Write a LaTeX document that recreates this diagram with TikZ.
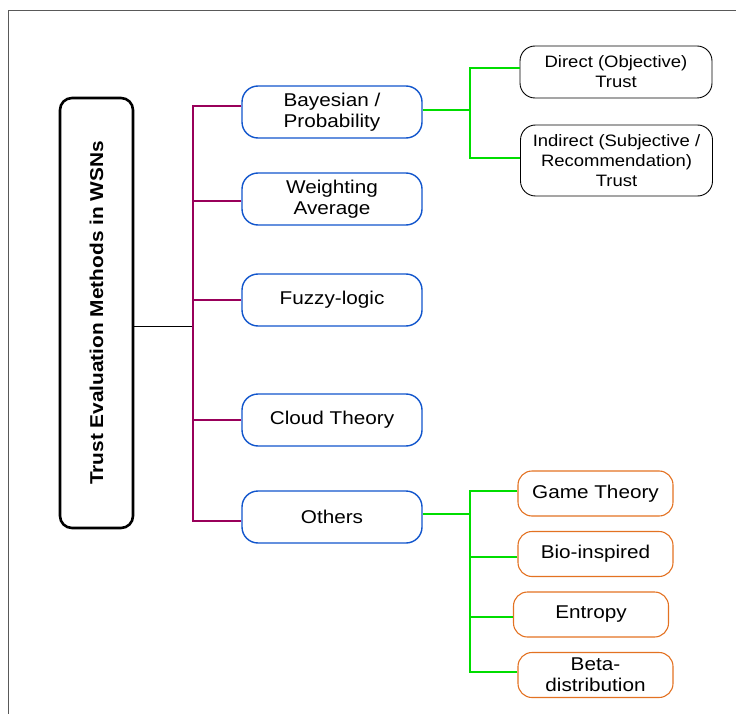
\documentclass[tikz,border=0pt]{standalone}
\usepackage{fontspec}
\setmainfont{Liberation Sans}[FakeStretch=1.12]
\definecolor{methblue}{RGB}{17,85,204}
\definecolor{branchpurple}{RGB}{153,0,90}
\definecolor{linkgreen}{RGB}{0,221,0}
\definecolor{otherorange}{RGB}{227,114,34}

\begin{document}
\begin{tikzpicture}[x=1pt,y=-1pt,
		every node/.style={font=\fontsize{16.5}{20}\selectfont, align=center, inner sep=2pt},
		rootbox/.style={draw, line width=2.6pt, rounded corners=12pt, minimum width=73pt, minimum height=430pt},
		methbox/.style={draw=methblue, line width=1.4pt, rounded corners=16pt, minimum width=180pt, minimum height=52pt, font=\fontsize{18.5}{21}\selectfont},
		kindbox/.style={draw, line width=0.9pt, rounded corners=15pt, minimum width=192pt},
		otherbox/.style={draw=otherorange, line width=1.1pt, rounded corners=14pt, minimum width=155pt, minimum height=45pt, font=\fontsize{18.5}{21}\selectfont},
		purp/.style={draw=branchpurple, line width=1.3pt},
		grn/.style={draw=linkgreen, line width=1.8pt}]
				\useasboundingbox (0,0) rectangle (736,714);
				\draw[gray!70!black, line width=0.8pt] (8,714) -- (8,10) -- (736,10);
				\node[rootbox] (root) at (96.5,313) {\rotatebox{90}{\fontsize{18.6}{20}\selectfont\bfseries Trust Evaluation Methods in WSNs}};
				\node[methbox] (bay) at (332,112) {Bayesian /\\Probability};
				\node[methbox] (wavg) at (332,199) {Weighting\\Average};
				\node[methbox] (fuzzy) at (332,300) {Fuzzy-logic};
				\node[methbox] (cloud) at (332,420) {Cloud Theory};
				\node[methbox] (oth) at (332,517) {Others};
				\node[kindbox, minimum height=52pt] (direct) at (616,72) {Direct (Objective)\\Trust};
				\node[kindbox, minimum height=71pt] (indirect) at (616.5,160.5) {Indirect (Subjective /\\Recommendation)\\Trust};
				\node[otherbox] (game) at (595.5,493.5) {Game Theory};
				\node[otherbox] (bio) at (595.5,554) {Bio-inspired};
				\node[otherbox] (entropy) at (591,614.5) {Entropy};
				\node[otherbox] (beta) at (595.5,675) {Beta-\\distribution};
				\coordinate (trunk) at (193,326);
				\coordinate (bayfork) at (470,110);
				\coordinate (othfork) at (470,514);
				% root to the methods
				\draw[line width=1pt] ([yshift=-13pt]root.east) -- (trunk);
				\draw[purp] ([yshift=6pt]bay.west) -| (trunk);
				\draw[purp] ([yshift=-2pt]wavg.west) -| (trunk);
				\draw[purp] (fuzzy.west) -| (trunk);
				\draw[purp] (cloud.west) -| (trunk);
				\draw[purp] ([yshift=-4pt]oth.west) -| (trunk);
				% sub-kinds
				\draw[grn] ([yshift=2pt]bay.east) -- (bayfork);
				\draw[grn] ([yshift=4pt]direct.west) -| (bayfork);
				\draw[grn] ([yshift=2.5pt]indirect.west) -| (bayfork);
				\draw[grn] ([yshift=3pt]oth.east) -- (othfork);
				\draw[grn] ([yshift=2.5pt]game.west) -| (othfork);
				\draw[grn] ([yshift=-3pt]bio.west) -| (othfork);
				\draw[grn] ([yshift=-2.5pt]entropy.west) -| (othfork);
				\draw[grn] ([yshift=3pt]beta.west) -| (othfork);
			\end{tikzpicture}
\end{document}
